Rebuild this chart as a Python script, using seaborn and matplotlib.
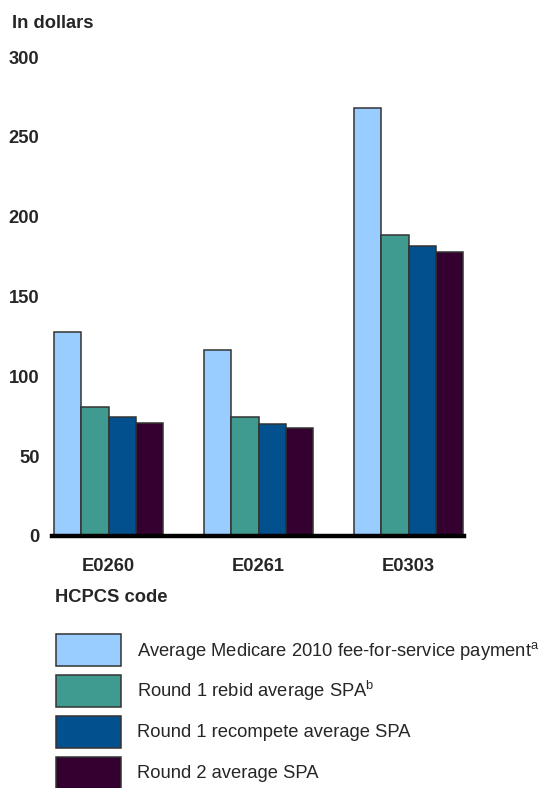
import matplotlib
matplotlib.use("Agg")
import matplotlib.pyplot as plt
import seaborn as sns
import pandas as pd
from matplotlib.patches import Patch

codes = ["E0260", "E0261", "E0303"]
series = [
    "Average Medicare 2010 fee-for-service payment$^\\mathrm{a}$",
    "Round 1 rebid average SPA$^\\mathrm{b}$",
    "Round 1 recompete average SPA",
    "Round 2 average SPA",
]
fee_for_service = [127.5, 116.7, 268.3]
round1_rebid = [80.8, 74.4, 188.7]
round1_recompete = [74.6, 70.2, 181.7]
round2 = [70.8, 67.7, 178.1]
colors = ["#99CCFF", "#3F9A90", "#03508F", "#330030"]
yticks = [0, 50, 100, 150, 200, 250, 300]

values = [fee_for_service, round1_rebid, round1_recompete, round2]
rows = []
for name, vals in zip(series, values):
    for c, v in zip(codes, vals):
        rows.append({"code": c, "series": name, "value": v})
df = pd.DataFrame(rows)

sns.set_theme(style="white")
plt.rcParams["font.family"] = ["Liberation Sans", "DejaVu Sans"]
plt.rcParams["mathtext.fontset"] = "custom"
plt.rcParams["mathtext.rm"] = "Liberation Sans"

fig = plt.figure(figsize=(5.43, 7.88), dpi=100)
ax = fig.add_axes([52 / 543, 1 - 536 / 788, (464 - 52) / 543, (536 - 57) / 788])

sns.barplot(data=df, x="code", y="value", hue="series", order=codes,
            hue_order=series, palette=colors, width=0.727, gap=0,
            edgecolor="#333333", linewidth=1.1, saturation=1,
            legend=False, ax=ax)

ax.set_xlim(-0.378, 2.369)
ax.set_ylim(0, 300)
ax.set_yticks(yticks)
ax.set_yticklabels([str(t) for t in yticks], fontsize=13.2, fontweight="bold")
ax.set_xticks(range(len(codes)))
ax.set_xticklabels(codes, fontsize=13.2, fontweight="bold")
ax.tick_params(axis="y", length=0, pad=9)
ax.tick_params(axis="x", length=0, pad=16)
ax.set_xlabel("")
ax.set_ylabel("")
for s in ["top", "right", "left"]:
    ax.spines[s].set_visible(False)
ax.spines["bottom"].set_linewidth(3.2)
ax.spines["bottom"].set_color("black")
ax.grid(False)

fig.text(12 / 543, 1 - 24 / 788, "In dollars", fontsize=13.2,
         fontweight="bold", va="center", ha="left")
fig.text(55 / 543, 1 - 598 / 788, "HCPCS code", fontsize=13.2,
         fontweight="bold", va="center", ha="left")

handles = [Patch(facecolor=c, edgecolor="#333333", linewidth=1.1) for c in colors]
fig.legend(handles, series, loc="upper left",
           bbox_to_anchor=(48.7 / 543, 1 - 626.7 / 788), frameon=False,
           fontsize=13.2, handlelength=3.55, handleheight=2.30,
           labelspacing=0.49, handletextpad=0.87, borderaxespad=0)

fig.savefig("out.png", dpi=100)
